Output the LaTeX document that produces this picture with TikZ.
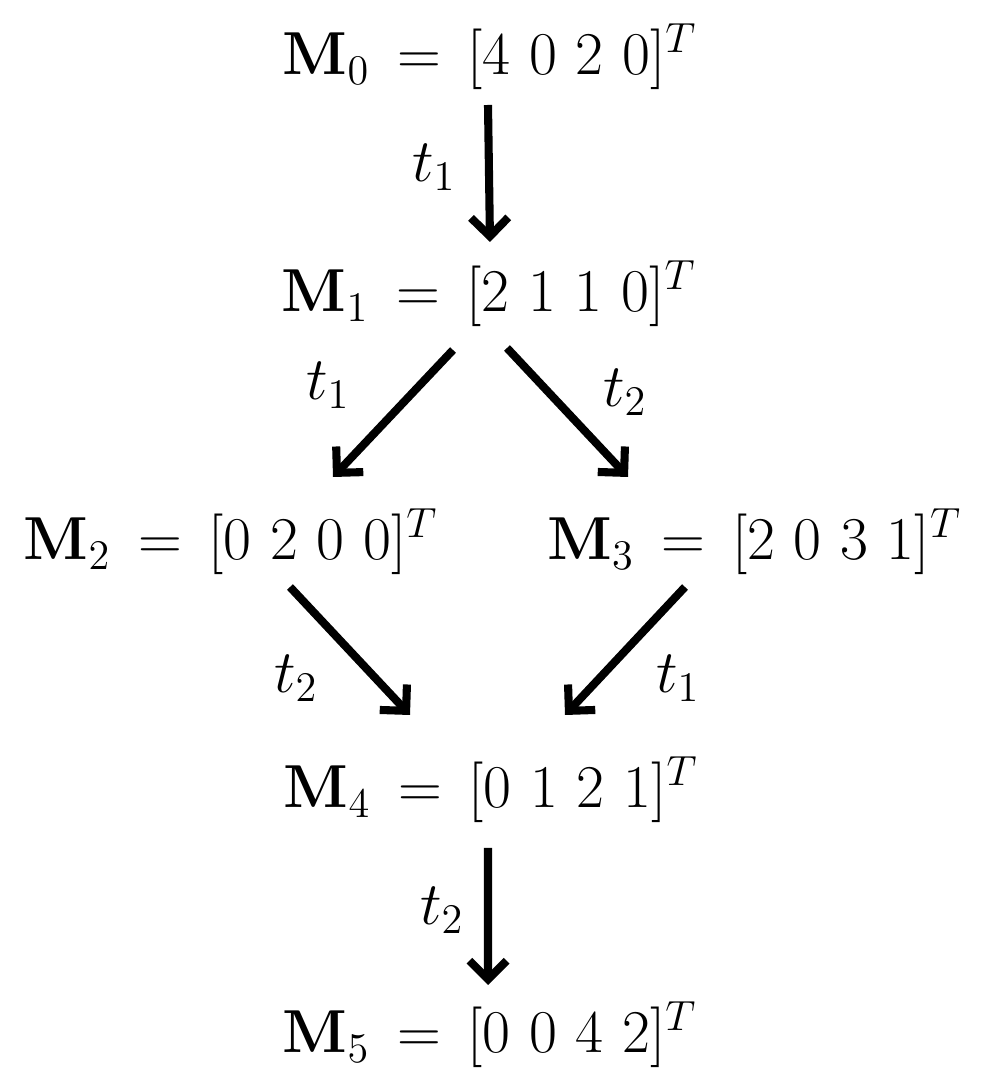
\documentclass[tikz,border=0pt]{standalone}
\usepackage{amsmath}
\usepackage{tikz}
\usetikzlibrary{arrows.meta}

\tikzset{
	marking/.style={inner sep=0pt, anchor=base, font=\fontsize{17.6}{20}\selectfont},
	trlabel/.style={inner sep=0pt, font=\fontsize{17.6}{20}\selectfont},
	fire/.style={line width=2.3pt, -{Straight Barb[angle=90:7.5pt]}}
}

\begin{document}
\begin{tikzpicture}

\useasboundingbox (0,0) rectangle (9.84,10.88); % page frame

%Place the markings (reachable states):
\node[marking] (M0) at (4.90,10.13) {$\mathbf{M}_0 \,=\, [4\ 0\ 2\ 0]^T$};
\node[marking] (M1) at (4.89,7.76) {$\mathbf{M}_1 \,=\, [2\ 1\ 1\ 0]^T$};
\node[marking] (M2) at (2.31,5.28) {$\mathbf{M}_2 \,=\, [0\ 2\ 0\ 0]^T$};
\node[marking] (M3) at (7.545,5.28) {$\mathbf{M}_3 \,=\, [2\ 0\ 3\ 1]^T$};
\node[marking] (M4) at (4.91,2.80) {$\mathbf{M}_4 \,=\, [0\ 1\ 2\ 1]^T$};
\node[marking] (M5) at (4.90,0.35) {$\mathbf{M}_5 \,=\, [0\ 0\ 4\ 2]^T$};

%Transitions fired
\draw[fire] ([xshift=-0.02cm,yshift=-0.30cm]M0.base) -- ([xshift=0.01cm,yshift=0.70cm]M1.base); % M0 -> M1
\draw[fire] ([xshift=-0.36cm,yshift=-0.38cm]M1.base) -- ([xshift=1.02cm,yshift=0.83cm]M2.base); % M1 -> M2
\draw[fire] ([xshift=0.18cm,yshift=-0.36cm]M1.base) -- ([xshift=-1.265cm,yshift=0.83cm]M3.base); % M1 -> M3
\draw[fire] ([xshift=0.59cm,yshift=-0.27cm]M2.base) -- ([xshift=-0.81cm,yshift=0.93cm]M4.base); % M2 -> M4
\draw[fire] ([xshift=-0.695cm,yshift=-0.27cm]M3.base) -- ([xshift=0.74cm,yshift=0.93cm]M4.base); % M3 -> M4
\draw[fire] ([xshift=-0.03cm,yshift=-0.40cm]M4.base) -- ([xshift=-0.02cm,yshift=0.68cm]M5.base); % M4 -> M5

%Transition labels
\node[trlabel] (T01) at (4.34,9.21) {$t_1$};
\node[trlabel] (T12) at (3.28,7.03) {$t_1$};
\node[trlabel] (T13) at (6.25,6.96) {$t_2$};
\node[trlabel] (T24) at (2.96,4.10) {$t_2$};
\node[trlabel] (T34) at (6.78,4.10) {$t_1$};
\node[trlabel] (T45) at (4.42,1.78) {$t_2$};

\end{tikzpicture}
\end{document}
